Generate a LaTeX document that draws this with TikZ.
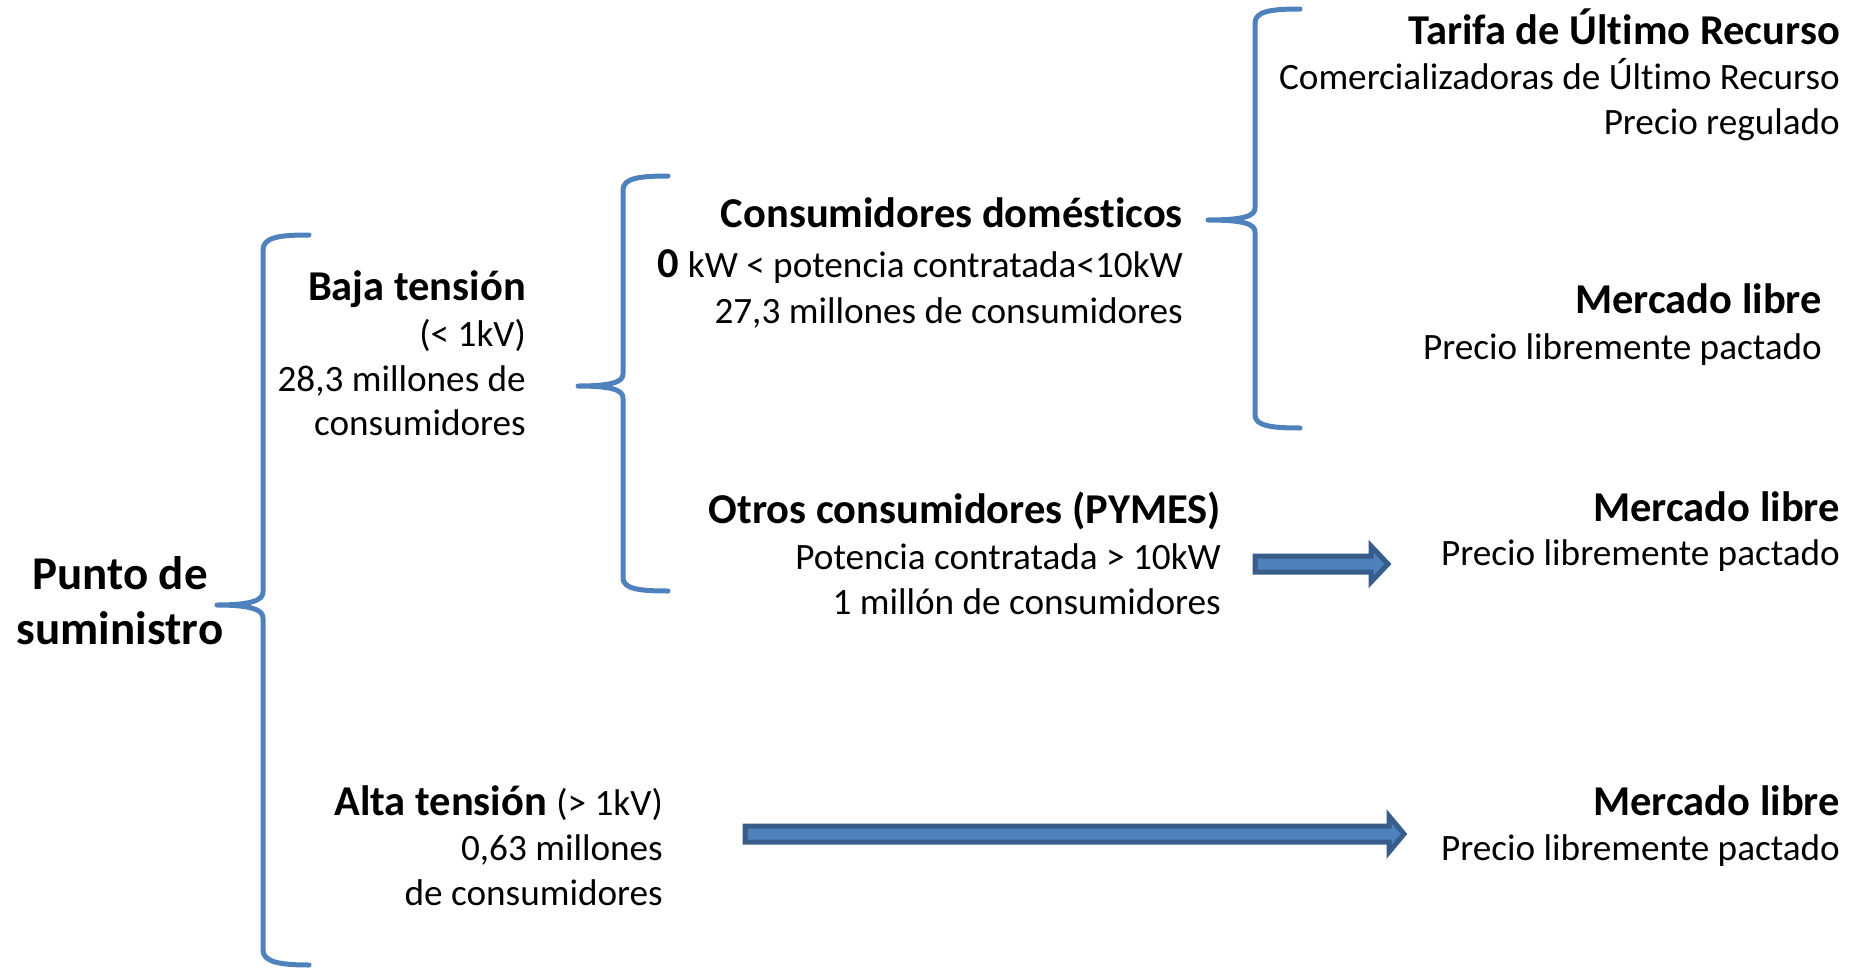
\documentclass[tikz,border=0pt]{standalone}
\usepackage{fontspec}
\setmainfont{Carlito}[Ligatures=NoCommon]
\definecolor{braceblue}{HTML}{4F81BD}
\definecolor{arrowedge}{HTML}{385D8A}
\begin{document}
\begin{tikzpicture}[x=1pt,y=-1pt,
  txt/.style={inner sep=0pt,anchor=base east,font=\fontsize{37.2}{45}\selectfont},
  hd/.style={inner sep=0pt,anchor=base east,font=\fontsize{42.5}{50}\selectfont\bfseries},
  bigt/.style={inner sep=0pt,anchor=base,font=\fontsize{47}{55}\selectfont\bfseries},
  bracestyle/.style={draw=braceblue,line width=5pt,line cap=round,line join=round},
  blockarrow/.style={draw=arrowedge,fill=braceblue,line width=5pt,line join=miter}]
\useasboundingbox (0,0) rectangle (1861,969);

% Punto de suministro
\node[bigt] (p1) at (120,589) {Punto de};
\node[bigt] (p2) at (120,644) {suministro};

% Brace 1
\draw[bracestyle] (309,235) .. controls (280,235) and (263,237) .. (263,250)
  -- (263,592) .. controls (263,600) and (252,605) .. (217,605)
  .. controls (252,605) and (263,610) .. (263,618)
  -- (263,950) .. controls (263,962) and (280,965) .. (309,965);

% Baja tension block
\node[hd] (b1) at (526,300) {Baja tensión};
\node[txt] (b2) at (526,346) {(< 1kV)};
\node[txt] (b3) at (526,391) {28,3 millones de};
\node[txt] (b4) at (526,435) {consumidores};

% Alta tension block
\node[txt] (a1) at (663,815) {\fontsize{42.5}{50}\selectfont\bfseries Alta tensión \fontsize{37.2}{45}\selectfont\mdseries (> 1kV)};
\node[txt] (a2) at (663,860) {0,63 millones};
\node[txt] (a3) at (663,905) {de consumidores};

% Brace 2
\draw[bracestyle] (668,176) .. controls (640,176) and (623,178) .. (623,190)
  -- (623,374) .. controls (623,382) and (612,386) .. (578,386)
  .. controls (612,386) and (623,390) .. (623,398)
  -- (623,578) .. controls (623,589) and (640,591) .. (668,591);

% Consumidores domesticos
\node[hd] (c1) at (1183,227) {Consumidores domésticos};
\node[txt] (c2) at (1183,277) {{\fontsize{42.5}{50}\selectfont\bfseries 0} kW < potencia contratada<10kW};
\node[txt] (c3) at (1183,323) {27,3 millones de consumidores};

% Otros consumidores
\node[hd] (o1) at (1221,523) {Otros consumidores (PYMES)};
\node[txt] (o2) at (1221,569) {Potencia contratada > 10kW};
\node[txt] (o3) at (1221,614) {1 millón de consumidores};

% Brace 3
\draw[bracestyle] (1300,9) .. controls (1272,9) and (1255,11) .. (1255,23)
  -- (1255,208) .. controls (1255,216) and (1244,220) .. (1208,220)
  .. controls (1244,220) and (1255,224) .. (1255,232)
  -- (1255,415) .. controls (1255,426) and (1272,428) .. (1300,428);

% Right column
\node[hd] (r1) at (1840,44) {Tarifa de Último Recurso};
\node[txt] (r2) at (1840,89) {Comercializadoras de Último Recurso};
\node[txt] (r3) at (1840,134) {Precio regulado};

\node[hd] (m1) at (1822,313) {Mercado libre};
\node[txt] (m2) at (1822,359) {Precio libremente pactado};

\node[hd] (n1) at (1840,521) {Mercado libre};
\node[txt] (n2) at (1840,565) {Precio libremente pactado};

\node[hd] (q1) at (1840,815) {Mercado libre};
\node[txt] (q2) at (1840,860) {Precio libremente pactado};

% Block arrows
\coordinate (ar1s) at (1255,564);
\coordinate (ar2s) at (745,834);
\draw[blockarrow] (ar1s) ++(0,-8) -- (1371,556) -- (1371,546) -- (1388,564)
  -- (1371,582) -- (1371,572) -- (1255,572) -- cycle;
\draw[blockarrow] (ar2s) ++(0,-8) -- (1389,826) -- (1389,816) -- (1404,834)
  -- (1389,852) -- (1389,842) -- (745,842) -- cycle;
\end{tikzpicture}
\end{document}
